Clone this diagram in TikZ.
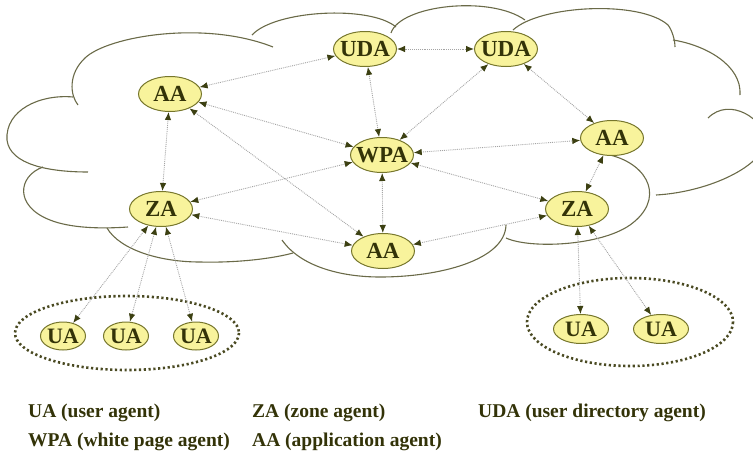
\documentclass[tikz,border=0pt]{standalone}
\usepackage{fontspec}
\setmainfont{Liberation Serif}
\usetikzlibrary{shapes.geometric,arrows.meta}

\definecolor{nodefill}{HTML}{F8F39C}
\definecolor{nodeborder}{HTML}{76762C}
\definecolor{inktext}{HTML}{333308}
\definecolor{cloudline}{HTML}{6A6A48}
\definecolor{linkgray}{HTML}{A4A4A4}
\definecolor{tipcol}{HTML}{3C4012}
\definecolor{groupdots}{HTML}{4A4A22}

\newcommand{\agt}[1]{\makebox[0pt][c]{#1}}

\tikzset{
  agent/.style={ellipse, draw=nodeborder, fill=nodefill, line width=1pt,
    text=inktext, inner sep=0pt, minimum width=63pt, minimum height=35pt,
    font=\fontsize{23}{23}\selectfont\bfseries},
  useragent/.style={agent, minimum width=45pt, minimum height=28pt,
    font=\fontsize{22}{22}\selectfont\bfseries},
  link/.style={draw=linkgray, densely dotted, line width=0.9pt,
    {Latex[length=8pt,width=6.5pt,color=tipcol]}-{Latex[length=8pt,width=6.5pt,color=tipcol]}},
  cloud/.style={draw=cloudline, line width=1.1pt},
  group/.style={draw=groupdots, line width=2.6pt, dash pattern=on 2.2pt off 2.6pt},
  legend/.style={anchor=base west, inner sep=0pt, text=inktext,
    font=\fontsize{19.5}{19.5}\selectfont\bfseries}
}

\begin{document}
\begin{tikzpicture}[x=1pt, y=-1pt]
\useasboundingbox (0,0) rectangle (753,458);

% cloud outline, built from overlapping arcs
\begin{scope}
\clip (0,0) rectangle (753,458);
\draw[cloud] (78,105) .. controls (70,95) and (68,74) .. (85,58)
                      .. controls (108,36) and (205,20) .. (273,47);
\draw[cloud] (73,97) .. controls (40,94) and (5,110) .. (7,140)
                     .. controls (10,165) and (50,172) .. (88,172);
\draw[cloud] (43,167) .. controls (18,176) and (14,206) .. (50,220)
                      .. controls (70,228) and (100,229) .. (128,227);
\draw[cloud] (107,228) .. controls (120,250) and (160,262) .. (200,262)
                       .. controls (240,263) and (275,258) .. (293,253);
\draw[cloud] (282,240) .. controls (300,266) and (340,277) .. (380,277)
                       .. controls (440,277) and (505,260) .. (506,225);
\draw[cloud] (506,238) .. controls (530,249) and (600,246) .. (630,225)
                       .. controls (665,200) and (650,165) .. (610,155);
\draw[cloud] (656,195) .. controls (710,192) and (765,165) .. (765,140)
                       .. controls (765,120) and (730,96) .. (708,118);
\draw[cloud] (673,40) .. controls (705,45) and (742,65) .. (740,95);
\draw[cloud] (513,30) .. controls (540,5) and (640,0) .. (668,25)
                      .. controls (672,30) and (675,40) .. (675,47);
\draw[cloud] (391,33) .. controls (400,5) and (490,-5) .. (525,20);
\draw[cloud] (252,35) .. controls (275,10) and (370,5) .. (396,27);
\end{scope}

% user groups
\draw[group] (127,333) ellipse [x radius=112, y radius=37];
\draw[group] (630,322) ellipse [x radius=103, y radius=44];

% agents
\node[agent] (uda1) at (365,49)  {\agt{UDA}};
\node[agent] (uda2) at (506,49)  {\agt{UDA}};
\node[agent] (aa1)  at (170,94)  {\agt{AA}};
\node[agent] (wpa)  at (382,155) {\agt{WPA}};
\node[agent] (aa2)  at (612,138) {\agt{AA}};
\node[agent] (za1)  at (161,209) {\agt{ZA}};
\node[agent] (za2)  at (577,209) {\agt{ZA}};
\node[agent] (aa3)  at (383,251) {\agt{AA}};

\node[useragent] (ua1) at (63,336)  {\agt{UA}};
\node[useragent] (ua2) at (126,336) {\agt{UA}};
\node[useragent] (ua3) at (196,336) {\agt{UA}};
\node[useragent, minimum width=55pt, minimum height=29pt] (ua4) at (581,329) {\agt{UA}};
\node[useragent, minimum width=55pt, minimum height=29pt] (ua5) at (661,329) {\agt{UA}};

% connections
\draw[link] (aa1) -- (uda1);
\draw[link] (uda1) -- (uda2);
\draw[link] (aa1) -- (wpa);
\draw[link] (aa1) -- (za1);
\draw[link] (aa1) -- (aa3);
\draw[link] (uda1) -- (wpa);
\draw[link] (uda2) -- (wpa);
\draw[link] (uda2) -- (aa2);
\draw[link] (wpa) -- (aa2);
\draw[link] (wpa) -- (za1);
\draw[link] (wpa) -- (za2);
\draw[link] (wpa) -- (aa3);
\draw[link] (aa2) -- (za2);
\draw[link] (za1) -- (aa3);
\draw[link] (aa3) -- (za2);
\draw[link] (za1) -- (ua1);
\draw[link] (za1) -- (ua2);
\draw[link] (za1) -- (ua3);
\draw[link] (za2) -- (ua4);
\draw[link] (za2) -- (ua5);

% legend
\node[legend] (l1) at (28,417)  {UA (user agent)};
\node[legend] (l2) at (252,417) {ZA (zone agent)};
\node[legend] (l3) at (478,417) {UDA (user directory agent)};
\node[legend] (l4) at (28,446)  {WPA (white page agent)};
\node[legend] (l5) at (252,446) {AA (application agent)};
\end{tikzpicture}
\end{document}
